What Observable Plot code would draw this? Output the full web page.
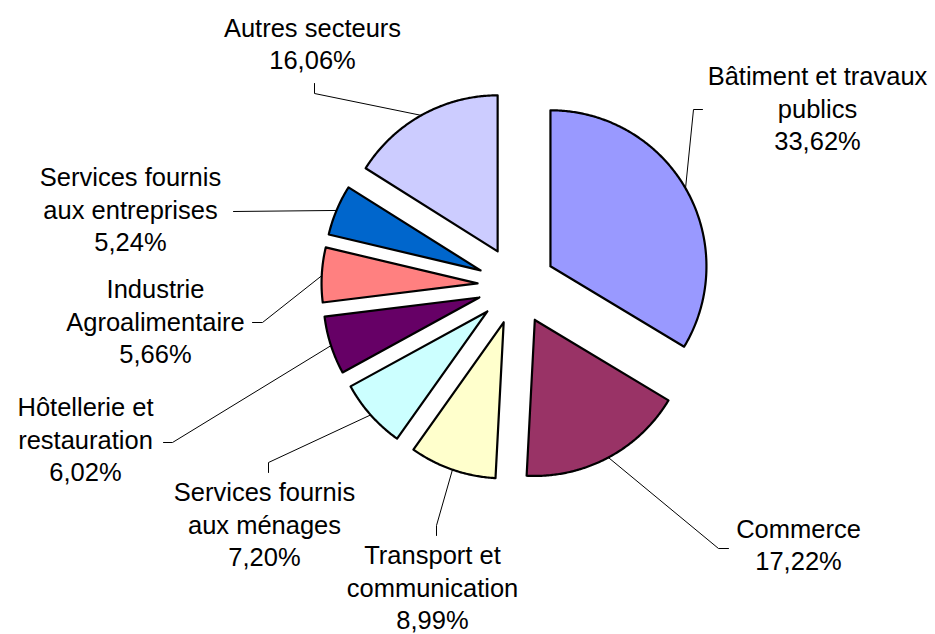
<!DOCTYPE html>
<html>
<head>
<meta charset="utf-8">
<script src="https://cdn.jsdelivr.net/npm/d3@7"></script>
<script src="https://cdn.jsdelivr.net/npm/@observablehq/plot@0.6"></script>
<style>
  html, body { margin: 0; padding: 0; background: #fff; }
  #chart svg { display: block; }
</style>
</head>
<body>
<div id="chart"></div>
<script>
// ---- data ----
const sectors = [
  "Bâtiment et travaux\npublics",
  "Commerce",
  "Transport et\ncommunication",
  "Services fournis\naux ménages",
  "Hôtellerie et\nrestauration",
  "Industrie\nAgroalimentaire",
  "Services fournis\naux entreprises",
  "Autres secteurs"
];
const shares = [33.62, 17.22, 8.99, 7.20, 6.02, 5.66, 5.24, 16.06];
const colors = ["#9999FF", "#993366", "#FFFFCC", "#CCFFFF", "#660066", "#FF8080", "#0066CC", "#CCCCFF"];

// ---- layout (pixels) ----
const W = 935, H = 634;
const cx = 516, cy = 285, R = 156, explode = 39;
// label block centres and leader-line start points (label side)
const labelPos = [
  {x: 817, y: 107, lead: [[702, 109], [693, 109]]},
  {x: 798, y: 543, lead: [[728, 548], [718, 548]]},
  {x: 432, y: 586, lead: [[436, 535], [436, 525]]},
  {x: 264, y: 523, lead: [[268, 472], [268, 462]]},
  {x: 85,  y: 438, lead: [[163, 442], [172, 442]]},
  {x: 155, y: 320, lead: [[252, 322], [262, 322]]},
  {x: 130, y: 208, lead: [[233, 211]]},
  {x: 312, y: 42,  lead: [[314, 83], [314, 93]]}
];

const total = d3.sum(shares);
let acc = 0;
const slices = shares.map((v, i) => {
  const a0 = acc / total * 2 * Math.PI;
  acc += v;
  const a1 = acc / total * 2 * Math.PI;
  const mid = (a0 + a1) / 2;
  const ax = cx + explode * Math.sin(mid);
  const ay = cy - explode * Math.cos(mid);
  const pts = [{x: ax, y: ay}];
  const n = Math.max(8, Math.ceil((a1 - a0) / (Math.PI / 360)));
  for (let k = 0; k <= n; k++) {
    const t = a0 + (a1 - a0) * k / n;
    pts.push({x: ax + R * Math.sin(t), y: ay - R * Math.cos(t)});
  }
  pts.push({x: ax, y: ay});
  const edge = {x: ax + (R - 1) * Math.sin(mid), y: ay - (R - 1) * Math.cos(mid)};
  return {name: sectors[i], value: v, color: colors[i], pts, edge, mid};
});

const fmt = v => v.toFixed(2).replace(".", ",") + "%";
const labels = slices.map((s, i) => ({
  x: labelPos[i].x, y: labelPos[i].y,
  text: s.name + "\n" + fmt(s.value)
}));
const leaders = slices.flatMap((s, i) => {
  const pts = labelPos[i].lead.map(([x, y]) => ({id: i, x, y}));
  pts.push({id: i, x: s.edge.x, y: s.edge.y});
  return pts;
});

const fontFamily = "'Liberation Sans', Arial, Helvetica, sans-serif";

const chart = Plot.plot({
  width: W,
  height: H,
  margin: 0,
  x: {domain: [0, W], range: [0, W], axis: null},
  y: {domain: [0, H], range: [0, H], axis: null},
  style: {background: "#fff", fontFamily},
  marks: [
    Plot.line(leaders, {x: "x", y: "y", z: "id", stroke: "#000", strokeWidth: 1}),
    ...slices.map(s => Plot.line(s.pts, {
      x: "x", y: "y", fill: s.color, stroke: "#000",
      strokeWidth: 2.2, strokeLinejoin: "round", curve: "linear"
    })),
    Plot.text(labels, {
      x: "x", y: "y", text: "text", fontSize: 25.5, lineHeight: 32.5 / 25.5,
      textAnchor: "middle", fill: "#000", fontFamily
    })
  ]
});
document.getElementById("chart").appendChild(chart);
</script>
</body>
</html>
